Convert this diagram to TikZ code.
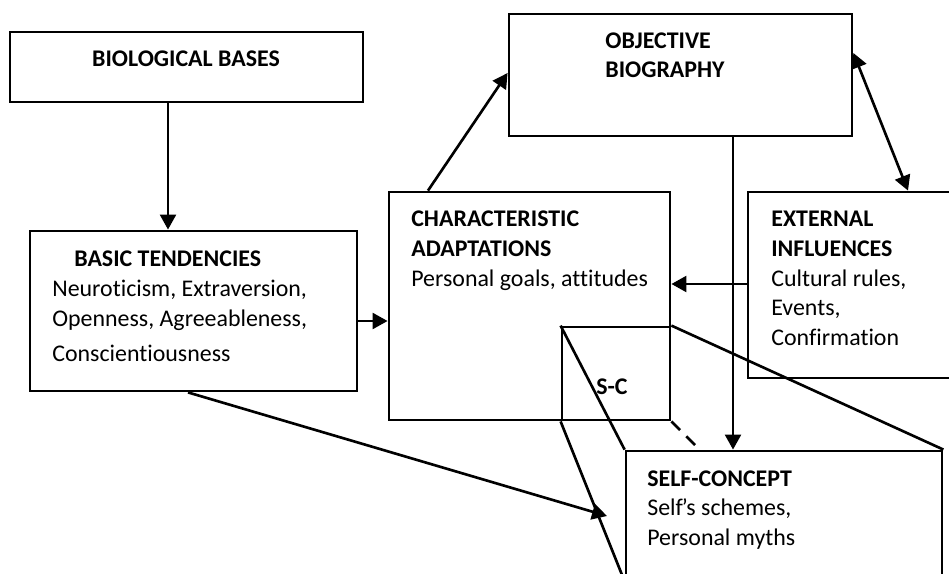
\documentclass[tikz,border=0pt]{standalone}
\usepackage{fontspec}
\setmainfont{Carlito}[Ligatures=CommonOff]
\usetikzlibrary{arrows.meta,fit}

\begin{document}
\begin{tikzpicture}[x=0.02cm, y=-0.02cm,
  box/.style={draw=black, line width=1.6pt, inner sep=0pt},
  txt/.style={anchor=north west, align=left, inner sep=0pt, font=\fontsize{13.6}{17}\selectfont},
  plain/.style={draw=black, line width=1.5pt},
  link/.style={plain, -{Triangle[length=8.5pt,width=9pt]}},
  twoway/.style={plain, {Triangle[length=8.5pt,width=9pt]}-{Triangle[length=8.5pt,width=9pt]}}]
\useasboundingbox (0,0) rectangle (949,574);
\clip (0,0) rectangle (949,574);

% boxes
\node[box, fit={(10,32) (363,102)}] (bio) {};
\node[box, fit={(30,231) (357,391)}] (basic) {};
\node[box, fit={(389,192) (670,420)}] (char) {};
\node[box, fit={(509,14) (852,136)}] (obj) {};
\node[box, fit={(748,192) (990,378)}] (ext) {};
\node[box, fit={(562,327) (670,420)}] (sc) {};
\node[box, fit={(626,451) (942,580)}] (self) {};

% texts (top of the first line)
\node[txt, anchor=base] (biot) at (186,67) {\textbf{BIOLOGICAL BASES}};
\node[txt] (basict) at (52,250.5) {\hspace*{12.5pt}\textbf{BASIC TENDENCIES}\\ Neuroticism, Extraversion,\\ Openness, Agreeableness,\\[3pt] Conscientiousness};
\node[txt] (chart) at (411,210.5) {\textbf{CHARACTERISTIC}\\ \textbf{ADAPTATIONS}\\ Personal goals, attitudes};
\node[txt] (objt) at (605,32) {\textbf{OBJECTIVE}\\ \textbf{BIOGRAPHY}};
\node[txt] (extt) at (771,210.5) {\textbf{EXTERNAL}\\ \textbf{INFLUENCES}\\ Cultural rules,\\ Events,\\ Confirmation};
\node[txt] (selft) at (647,470) {\textbf{SELF-CONCEPT}\\ Self\kern-0.6pt’s schemes,\\ Personal myths};
\node[txt, anchor=base] (sct) at (612,394) {\textbf{S-C}};

\coordinate (tip) at (607,516);
\coordinate (hid) at (697,447);

% arrows
\path (bio.south -| 168,0) edge[link] (basic.north -| 168,0);
\path (basic.east |- 0,321) edge[link] (char.west |- 0,321);
\path (basic.south -| 188,0) edge[link] (tip);
\path (char.north -| 428,0) edge[link] (obj.west |- 0,73);
\path (ext.west |- 0,284) edge[link] (char.east |- 0,284);
\path (obj.south -| 733,0) edge[link] (self.north -| 733,0);
\path (obj.east |- 0,53) edge[twoway] (ext.north -| 908,0);

% projection of S-C onto the self-concept box
\path (sc.north west) edge[plain] (self.north west)
  (sc.north east) edge[plain] (self.north east)
  (sc.south west) edge[plain] (self.south west);
\path (sc.south east) edge[plain, dash pattern=on 7pt off 5pt] (hid);
\end{tikzpicture}
\end{document}
